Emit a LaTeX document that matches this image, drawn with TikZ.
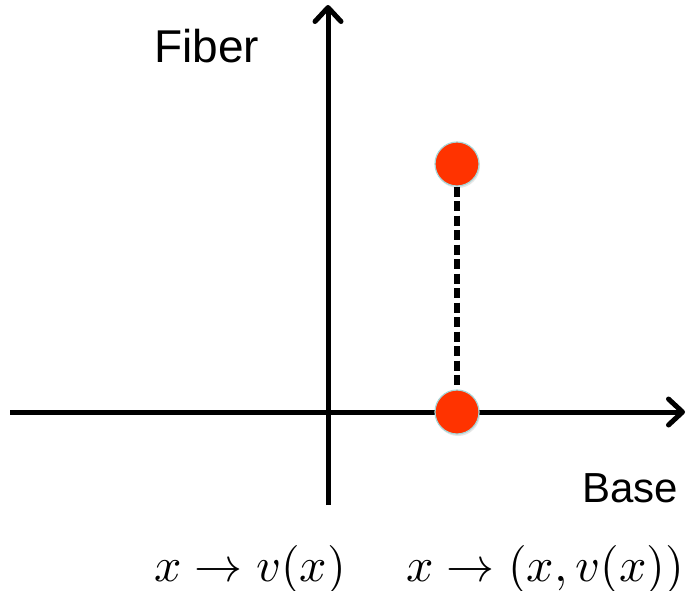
\documentclass[tikz,border=0pt]{standalone}
\usepackage{fontspec}
\usepackage{graphicx}
\setmainfont{Liberation Sans}
\usetikzlibrary{arrows.meta,shadows}
\tikzset{
  axis/.style={line width=5pt, -{Straight Barb[length=14pt,width=26pt,line cap=round,line join=round]}},
  dot/.style={circle, minimum size=44pt, inner sep=0pt, fill={rgb,255:red,255;green,51;blue,0}, draw={rgb,255:red,168;green,214;blue,216}, line width=1.2pt, drop shadow={shadow xshift=1pt, shadow yshift=-2pt, opacity=0.2}},
  lbl/.style={inner sep=0pt, font=\fontsize{46}{50}\selectfont},
  mlbl/.style={inner sep=0pt, anchor=base},
  dashline/.style={line width=5.5pt, dash pattern=on 10pt off 4.5pt}
}
\begin{document}
\begin{tikzpicture}[x=1pt,y=-1pt]
\useasboundingbox (0,0) rectangle (687,590);
\coordinate (hs) at (10,412);
\coordinate (he) at (685,412);
\coordinate (vs) at (328,505);
\coordinate (ve) at (328,5);
\draw[axis] (hs) -- (he);
\draw[axis] (vs) -- (ve);
\node[dot] (p) at (457,164) {};
\node[dot] (q) at (457,412) {};
\draw[dashline] (p) -- (q);
\node[lbl, anchor=base west] (fiber) at (154,62) {Fiber};
\node[lbl, anchor=base west, font=\fontsize{42}{46}\selectfont] (base) at (582,502) {Base};
\node[mlbl] (m1) at (250,581) {\scalebox{4.8}{$x \rightarrow v(x)$}};
\node[mlbl] (m2) at (545,581) {\scalebox{4.8}{$x \rightarrow (x, v(x))$}};
\end{tikzpicture}
\end{document}
